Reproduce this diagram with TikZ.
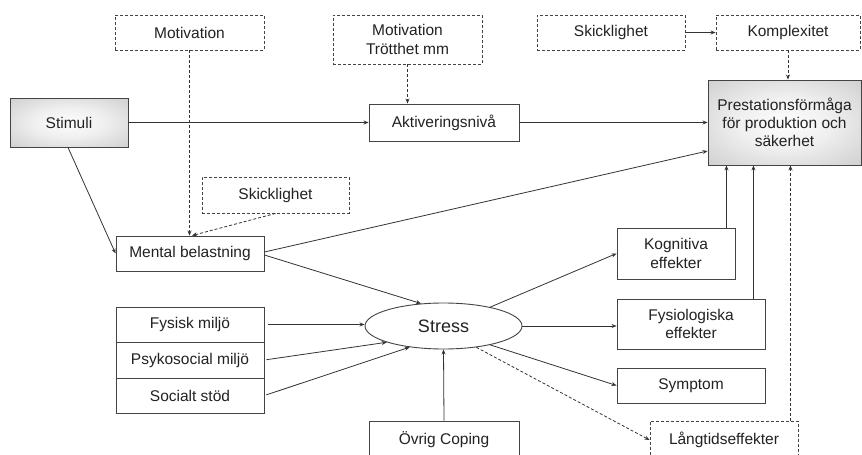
\documentclass[tikz,border=0pt]{standalone}
\usepackage{fontspec}
\setmainfont{Liberation Sans}
\usetikzlibrary{arrows.meta,calc,shapes.geometric}
\definecolor{edge}{HTML}{444444}
\definecolor{ink}{HTML}{222222}
% soft glow: light centre fading to grey towards the border
\pgfdeclareradialshading{boxglow}{\pgfpoint{0bp}{0bp}}{%
  color(0bp)=(gray!2); color(15bp)=(gray!12); color(50bp)=(gray!55); color(72bp)=(gray!75)}
\tikzset{
  base/.style={draw=edge, line width=0.9pt, text=ink, inner sep=0pt, align=center,
               font=\fontsize{15.5}{18.3}\selectfont},
  solidbox/.style={base, rectangle},
  dashbox/.style={base, rectangle, dash pattern=on 3pt off 2pt},
  shadebox/.style={base, rectangle, shading=boxglow},
  conn/.style={draw=black!80, line width=0.8pt, -{Stealth[length=5pt,width=4pt]}},
  dconn/.style={conn, dash pattern=on 3pt off 2pt},
  link/.style={draw=black!80, line width=0.8pt},
}
\begin{document}
\begin{tikzpicture}[x=1pt, y=-1pt]
\path[use as bounding box] (0,0) rectangle (862,455);
\clip (0,0) rectangle (862,455);
\fill[white] (0,0) rectangle (862,455);

% top row
\node[dashbox, minimum width=149pt, minimum height=35pt] (motA) at (189.5,32.5) {Motivation};
\node[dashbox, minimum width=149pt, minimum height=49pt] (motB) at (407.5,39.5) {Motivation\\Trötthet mm};
\node[dashbox, minimum width=148pt, minimum height=35pt] (skill1) at (611,32.5) {Skicklighet};
\node[dashbox, minimum width=144pt, minimum height=35pt] (komp) at (788,32.5) {Komplexitet};

% main line
\node[shadebox, minimum width=118pt, minimum height=49pt] (stim) at (69,122.5) {Stimuli};
\node[solidbox, minimum width=150pt, minimum height=37pt] (akt) at (444,122.5) {Aktiveringsnivå};
\node[shadebox, minimum width=153pt, minimum height=85pt] (prest) at (784.5,122.5)
  {Prestationsförmåga\\för produktion och\\säkerhet};

% mental load
\node[dashbox, minimum width=147pt, minimum height=36pt] (skill2) at (275.5,195) {Skicklighet};
\node[solidbox, minimum width=148pt, minimum height=35pt] (mental) at (190,253.5) {Mental belastning};

% environment stack
\node[solidbox, minimum width=148pt, minimum height=35pt] (fys) at (190,324.5) {Fysisk miljö};
\node[solidbox, minimum width=148pt, minimum height=36pt] (psy) at (190,360) {Psykosocial miljö};
\node[solidbox, minimum width=148pt, minimum height=35pt] (soc) at (190,395.5) {Socialt stöd};

% stress and coping
\node[base, ellipse, minimum width=157pt, minimum height=46pt, font=\fontsize{18}{20}\selectfont]
  (stress) at (443.5,326) {Stress};
\node[solidbox, minimum width=150pt, minimum height=38pt] (cop) at (444,440) {Övrig Coping};

% effects
\node[solidbox, minimum width=118pt, minimum height=51pt] (kog) at (676,253.5) {Kognitiva\\effekter};
\node[solidbox, minimum width=148pt, minimum height=50pt] (fysio) at (691,324) {Fysiologiska\\effekter};
\node[solidbox, minimum width=148pt, minimum height=35pt] (sym) at (691,385.5) {Symptom};
\node[dashbox, minimum width=148pt, minimum height=38pt] (lang) at (724,440) {Långtidseffekter};

% connectors
\draw[dconn] (motA.south) -- (motA.south |- mental.north);
\draw[conn] (stim.east) -- (akt.west);
\draw[dconn] (motB.south) -- (motB.south |- akt.north);
\draw[conn] (akt.east) -- (prest.west);
\draw[conn] (skill1.east) -- (komp.west);
\draw[dconn] (komp.south) -- (komp.south |- prest.north);
\draw[conn] ($(stim.south)+(-1,0)$) -- (mental.west);
\draw[dconn] (skill2.south) -- ($(mental.north)+(2,0)$);
\draw[conn] ($(mental.east)+(0,-1.5)$) -- ($(prest.west)+(0,28.5)$);
\draw[conn] ($(mental.east)+(0,1.5)$) -- (stress.135);

\draw[conn, shorten <=4pt] (fys.east) -- (fys.east -| stress.west);
\draw[conn, shorten <=2pt] (psy.east) -- (stress.196);
\draw[conn, shorten <=2pt] (soc.east) -- (stress.212);
\draw[conn] (cop.north) -- (stress.south);

\draw[conn] (stress.22) -- (kog.west);
\draw[conn] (stress.east) -- (stress.east -| fysio.west);
\draw[conn] (stress.-22) -- (sym.west);
\draw[dconn] (stress.-33) -- (lang.west);

\coordinate (k1) at ($(kog.north east)+(-9,0)$);
\coordinate (f1) at ($(fysio.north east)+(-12,0)$);
\coordinate (l1) at ($(lang.north east)+(-8,0)$);
\draw[conn] (k1) -- (k1 |- prest.south);
\draw[conn] (f1) -- (f1 |- prest.south);
\draw[dconn] (l1) -- (l1 |- prest.south);
\end{tikzpicture}
\end{document}
